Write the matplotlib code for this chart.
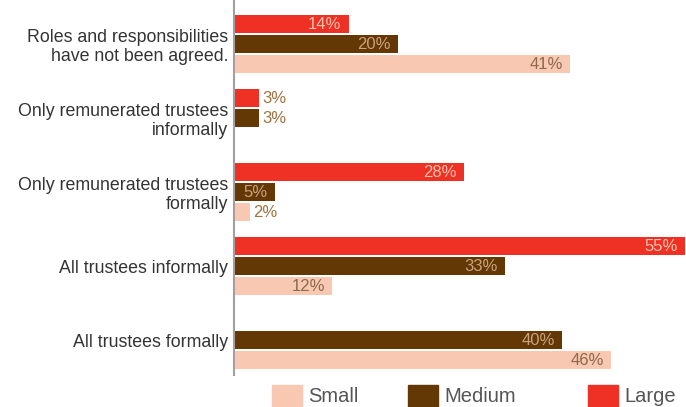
# Grouped horizontal bar chart: trustee roles by charity size
import matplotlib.pyplot as plt
from matplotlib.patches import Rectangle

categories = ["Roles and responsibilities\nhave not been agreed.",
              "Only remunerated trustees\ninformally",
              "Only remunerated trustees\nformally",
              "All trustees informally",
              "All trustees formally"]
small = [41, 0, 2, 12, 46]
medium = [20, 3, 5, 33, 40]
large = [14, 3, 28, 55, 0]

series_names = ["Small", "Medium", "Large"]
colors = ["#f9c8b2", "#633805", "#ee3124"]
inside_text = ["#8c6a4a", "#c9a27c", "#fbc3ad"]
outside_text = "#a0723f"

plt.rcParams['font.family'] = ['Liberation Sans', 'DejaVu Sans']

fig = plt.figure(figsize=(6.86, 4.07), dpi=100)
ax = fig.add_axes([0.341, 0.0786, 0.659, 0.9214])

offsets = [0.27, 0.0, -0.27]   # small below, large above
height = 0.245
pos = list(range(len(categories)))

for values, off, col, tcol in zip([small, medium, large], offsets, colors, inside_text):
    ys = [p + off for p in pos]
    ax.barh(ys, values, height=height, color=col, edgecolor="none")
    for y, v in zip(ys, values):
        if v == 0:
            continue
        if v >= 5:
            ax.text(v - 0.9, y, f"{v}%", ha="right", va="center",
                    fontsize=12, color=tcol)
        else:
            ax.text(v + 0.4, y, f"{v}%", ha="left", va="center",
                    fontsize=12, color=outside_text)

ax.set_xlim(0, 55.1)
ax.set_ylim(4.47, -0.595)
ax.set_yticks(pos)
ax.set_yticklabels(categories, fontsize=12.8, color="#333333",
                   linespacing=1.15)
ax.tick_params(axis="y", length=0, pad=4)
ax.set_xticks([])
for s in ["top", "right", "bottom"]:
    ax.spines[s].set_visible(False)
ax.spines["left"].set_color("#a0a0a0")
ax.spines["left"].set_linewidth(1.5)

# legend along the bottom edge
legend_x = [272, 408, 588]
for x, name, col in zip(legend_x, series_names, colors):
    fig.add_artist(Rectangle((x / 686, -0.02), 30 / 686, 0.074,
                             transform=fig.transFigure, color=col))
    fig.text((x + 36) / 686, 1 - 397 / 407, name, ha="left", va="center",
             fontsize=14.5, color="#555555")

fig.savefig("out.png", dpi=100)
